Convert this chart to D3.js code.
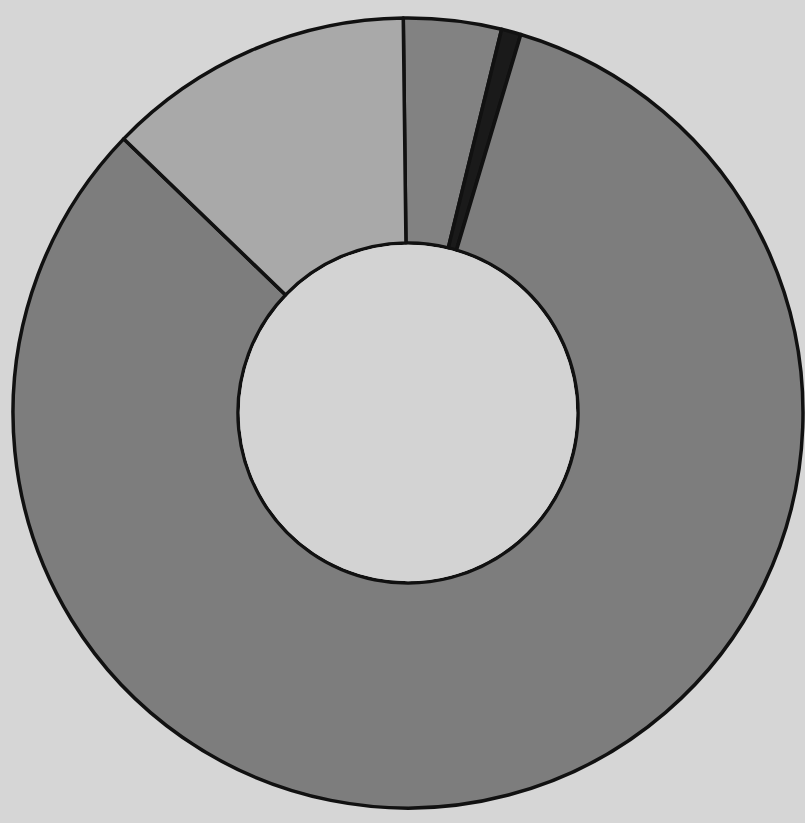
<!DOCTYPE html>
<html>
<head>
<meta charset="utf-8">
<script src="https://cdn.jsdelivr.net/npm/d3@7"></script>
<style>
  body { margin: 0; background: #d6d6d6; }
</style>
</head>
<body>
<div id="chart"></div>
<script>
// slices, clockwise from 12 o'clock
var labels = ["A", "B", "C", "D"];
var values = [4.0, 0.8, 82.6, 12.6];
var colors = ["#828282", "#1a1a1a", "#7d7d7d", "#a9a9a9"];

var width = 805, height = 823;
var cx = 408, cy = 413;
var outerR = 395, innerR = 170;

var svg = d3.select("#chart")
  .append("svg")
  .attr("width", width)
  .attr("height", height);

svg.append("rect")
  .attr("width", width)
  .attr("height", height)
  .attr("fill", "#d6d6d6");

var g = svg.append("g")
  .attr("transform", "translate(" + cx + "," + cy + ")");

var pie = d3.pie()
  .sort(null)
  .startAngle(-0.012)
  .endAngle(2 * Math.PI - 0.012)
  .value(function(d) { return d; });

var arc = d3.arc()
  .innerRadius(innerR)
  .outerRadius(outerR);

g.selectAll("path")
  .data(pie(values))
  .enter()
  .append("path")
  .attr("d", arc)
  .attr("fill", function(d, i) { return colors[i]; })
  .attr("stroke", "#111")
  .attr("stroke-width", 3.5)
  .attr("stroke-linejoin", "round");

// hole
g.append("circle")
  .attr("r", innerR - 1.75)
  .attr("fill", "#d3d3d3");
</script>
</body>
</html>
